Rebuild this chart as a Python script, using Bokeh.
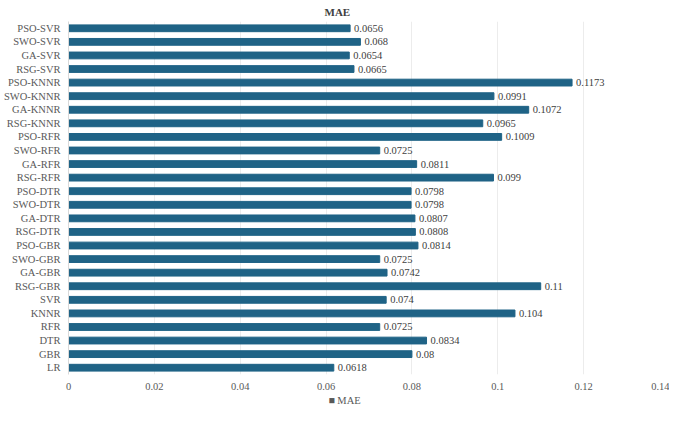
from bokeh.plotting import figure
from bokeh.models import ColumnDataSource, Range1d, FixedTicker, LabelSet, LinearAxis
from bokeh.embed import file_html
from bokeh.resources import INLINE

categories = ["LR", "GBR", "DTR", "RFR", "KNNR", "SVR",
              "RSG-GBR", "GA-GBR", "SWO-GBR", "PSO-GBR",
              "RSG-DTR", "GA-DTR", "SWO-DTR", "PSO-DTR",
              "RSG-RFR", "GA-RFR", "SWO-RFR", "PSO-RFR",
              "RSG-KNNR", "GA-KNNR", "SWO-KNNR", "PSO-KNNR",
              "RSG-SVR", "GA-SVR", "SWO-SVR", "PSO-SVR"]
mae = [0.0618, 0.08, 0.0834, 0.0725, 0.104, 0.074,
       0.11, 0.0742, 0.0725, 0.0814,
       0.0808, 0.0807, 0.0798, 0.0798,
       0.099, 0.0811, 0.0725, 0.1009,
       0.0965, 0.1072, 0.0991, 0.1173,
       0.0665, 0.0654, 0.068, 0.0656]
labels = [f"{v:g}" for v in mae]
x_ticks = [0, 0.02, 0.04, 0.06, 0.08, 0.1, 0.12, 0.14]
x_tick_labels = {0: "0", 0.02: "0.02", 0.04: "0.04", 0.06: "0.06", 0.08: "0.08",
                 0.1: "0.1", 0.12: "0.12", 0.14: "0.14"}
series_name = "MAE"
legend_pos = 0.0643

FONT = "Liberation Serif"
BAR = "#1f6386"

src = ColumnDataSource(dict(cat=categories, val=mae, lab=labels))

p = figure(width=669, height=408, y_range=categories, x_range=Range1d(0, 0.14),
           output_backend="svg", toolbar_location=None,
           min_border_left=0, min_border_right=0, min_border_top=0, min_border_bottom=0)
p.outline_line_color = None
p.background_fill_color = "white"

r = p.hbar(y="cat", right="val", left=0, height=0.5, color=BAR, source=src)

p.add_layout(LabelSet(x="val", y="cat", text="lab", source=src, x_offset=4, y_offset=0,
                      text_baseline="middle", text_font=FONT, text_font_size="10.5px",
                      text_color="#404040"))

p.title.text = series_name
p.title.align = "left"
p.title.offset = 256
p.title.text_font = FONT
p.title.text_font_size = "11px"
p.title.text_font_style = "bold"
p.title.text_color = "#404040"
p.title.standoff = 7

p.xaxis.ticker = FixedTicker(ticks=x_ticks)
p.xaxis.major_label_overrides = x_tick_labels
p.xaxis.axis_line_color = None
p.xaxis.major_tick_line_color = None
p.xaxis.minor_tick_line_color = None
p.xaxis.major_tick_out = 0
p.xaxis.major_tick_in = 0
p.xaxis.minor_tick_out = 0
p.xaxis.major_label_text_font = FONT
p.xaxis.major_label_text_font_size = "10.5px"
p.xaxis.major_label_text_color = "#595959"
p.xaxis.major_label_standoff = 8

p.yaxis.axis_line_color = "#d9d9d9"
p.yaxis.major_tick_line_color = None
p.yaxis.minor_tick_line_color = None
p.yaxis.major_label_text_font = FONT
p.yaxis.major_label_text_font_size = "10.5px"
p.yaxis.major_label_text_color = "#595959"
p.yaxis.major_label_standoff = 2

p.ygrid.grid_line_color = None
p.xgrid.grid_line_color = "#ececec"

# legend row drawn as a second bottom axis (Legend in a side panel collapses the layout)
leg_axis = LinearAxis(ticker=FixedTicker(ticks=[legend_pos]),
                      major_label_overrides={legend_pos: "\u25a0 " + series_name},
                      axis_line_color=None, major_tick_line_color=None,
                      minor_tick_line_color=None, major_tick_out=0, major_tick_in=0,
                      minor_tick_out=0, major_label_standoff=2,
                      major_label_text_font=FONT, major_label_text_font_size="10.5px",
                      major_label_text_color="#595959")
p.add_layout(leg_axis, "below")

open("out.html", "w").write(file_html(p, INLINE))
